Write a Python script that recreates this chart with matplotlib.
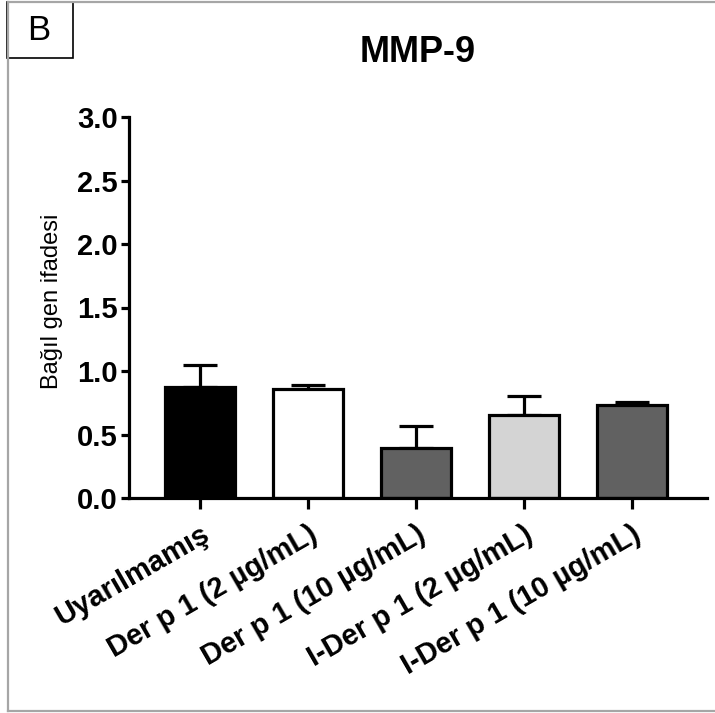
import numpy as np
import matplotlib
matplotlib.use("Agg")
import matplotlib.pyplot as plt
from matplotlib.lines import Line2D
from matplotlib.patches import Rectangle

plt.rcParams['font.family'] = ['Liberation Sans', 'DejaVu Sans']

# data
groups = ['Uyarılmamış', 'Der p 1 (2 µg/mL)', 'Der p 1 (10 µg/mL)',
          'I-Der p 1 (2 µg/mL)', 'I-Der p 1 (10 µg/mL)']
means = [0.875, 0.855, 0.395, 0.652, 0.735]
errs = [0.175, 0.035, 0.175, 0.150, 0.020]
colors = ['#000000', '#ffffff', '#616161', '#d4d4d4', '#616161']

W, H = 715, 713
fig = plt.figure(figsize=(W / 100, H / 100), dpi=100)

# gray outer frame (left, top, bottom) and the "B" box
fr = '#a6a6a6'
fig.add_artist(Line2D([8 / W, 8 / W], [1 - 711 / H, 1 - 2 / H], color=fr, lw=1.6))
fig.add_artist(Line2D([8 / W, 1], [1 - 2 / H, 1 - 2 / H], color=fr, lw=1.6))
fig.add_artist(Line2D([8 / W, 1], [1 - 711 / H, 1 - 711 / H], color=fr, lw=1.6))
fig.add_artist(Rectangle((7 / W, 1 - 58 / H), 66 / W, 56 / H, fill=False,
                         edgecolor='black', lw=1.2, transform=fig.transFigure))
fig.text(39 / W, 1 - 31 / H, 'B', fontsize=25, ha='center', va='center')

ax = fig.add_axes([129 / W, 1 - 498 / H, (707 - 129) / W, (498 - 117) / H])
x = np.arange(len(groups))
ax.bar(x, means, width=0.65, color=colors, edgecolor='black', linewidth=2.3, zorder=2)
ax.errorbar(x, means, yerr=[np.zeros(len(errs)), errs], fmt='none', ecolor='black',
            elinewidth=2.3, capsize=12, capthick=2.3, zorder=1)

ax.set_xlim(-0.657, 4.694)
ax.set_ylim(0, 3.0)
ax.set_yticks(np.arange(0, 3.01, 0.5))
ax.set_yticklabels([f'{v:.1f}' for v in np.arange(0, 3.01, 0.5)],
                   fontsize=21, fontweight='bold')
ax.set_xticks(x)
ax.set_xticklabels(groups, rotation=30, ha='right', va='top', rotation_mode='anchor',
                   fontsize=21, fontweight='bold')

for s in ['top', 'right']:
    ax.spines[s].set_visible(False)
for s in ['left', 'bottom']:
    ax.spines[s].set_linewidth(2.3)
ax.tick_params(axis='y', length=6, width=2.3, pad=2)
ax.tick_params(axis='x', length=8, width=2.3, pad=8)

ax.set_ylabel('Bağıl gen ifadesi', fontsize=17)
ax.yaxis.set_label_coords(-0.114, 0.517)
fig.text(418 / W, 1 - 53 / H, 'MMP-9', fontsize=26, fontweight='bold',
         ha='center', va='center')

fig.savefig('out.png', dpi=100)
